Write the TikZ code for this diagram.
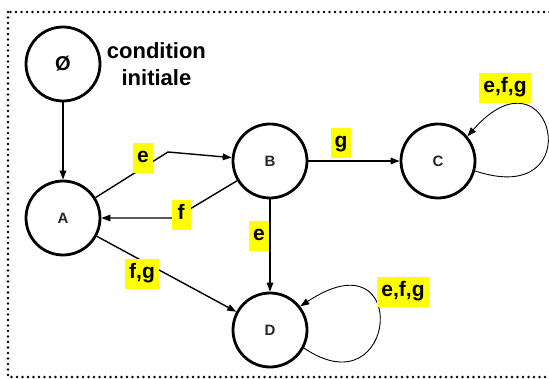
\documentclass[tikz,border=0pt]{standalone}
\usepackage{fontspec}
\setmainfont{Liberation Sans}
\setsansfont{Liberation Sans}
\usepackage{xcolor}
\definecolor{qyellow}{HTML}{FFFF00}
\usetikzlibrary{arrows.meta,positioning}

\begin{document}
\begin{tikzpicture}[x=1pt,y=-1pt,font=\sffamily\bfseries,node distance=2pt,
  et/.style={circle,draw=black,line width=2.8pt,minimum size=74pt,inner sep=0pt,fill=white,font=\sffamily\bfseries\fontsize{15}{17}\selectfont,text=black!85},
  lab/.style={fill=qyellow,inner xsep=4pt,inner ysep=5pt,text height=15pt,text depth=5pt,minimum width=19pt,font=\sffamily\bfseries\fontsize{21}{24}\selectfont},
  arr/.style={-{Triangle[length=9pt,width=6.5pt]},draw=black,line width=1.4pt},
  bcl/.style={arr,line width=0.9pt},
  cadre/.style={draw=black,line width=2.8pt,dash pattern=on 0pt off 5.5pt,line cap=round}]
\useasboundingbox (0,0) rectangle (549,379);
\draw[cadre] (8,12) rectangle (560,377);
% etats
\node[et,font=\sffamily\bfseries\fontsize{20}{22}\selectfont,text=black] (init) at (63,64) {Ø};
\node[right=of init,align=center,font=\sffamily\bfseries\fontsize{22}{27}\selectfont] (cond) {condition\\initiale};
\node[et] (A) at (63,218) {A};
\node[et] (B) at (270,161) {B};
\node[et] (C) at (438,161) {C};
\node[et] (D) at (270,330) {D};
\coordinate (eb) at (168,152);
\coordinate (fa) at (175,218);
% transitions
\draw[arr] (init)--(A);
\draw[arr] (A)--(eb)--(B);
\draw[arr] (B)--(fa)--(A);
\draw[arr] (B)--(C);
\draw[arr] (B)--(D);
\draw[arr] (A)--(D);
\draw[bcl] (C.-15) .. controls (592,210) and (552,40) .. (C.40);
\draw[bcl] (D.-28) .. controls (398,412) and (412,232) .. (D.38);
% etiquettes
\node[lab] (le1) at (143,158) {e};
\node[lab] (lf) at (181,215) {f};
\node[lab] (lg) at (341,143) {g};
\node[lab] (le2) at (259,236) {e};
\node[lab] (lfg) at (142,274) {f,g};
\node[lab] (lc) at (505,88) {e,f,g};
\node[lab] (ld) at (403,292) {e,f,g};
\end{tikzpicture}
\end{document}
